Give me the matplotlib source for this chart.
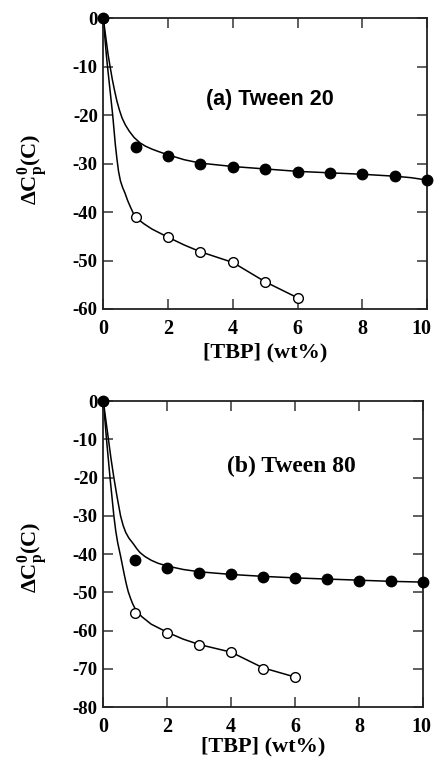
import matplotlib
matplotlib.use('Agg')
import matplotlib.pyplot as plt
from matplotlib.transforms import ScaledTranslation

plt.rcParams['font.family'] = 'Liberation Serif'
plt.rcParams['font.weight'] = 'bold'
plt.rcParams['axes.unicode_minus'] = False
plt.rcParams['mathtext.fontset'] = 'custom'
plt.rcParams['mathtext.rm'] = 'Liberation Serif'
plt.rcParams['mathtext.bf'] = 'Liberation Serif:bold'

# measured points
tbp_filled = [0, 1, 2, 3, 4, 5, 6, 7, 8, 9, 10]
tbp_open = [0, 1, 2, 3, 4, 5, 6]
t20_filled = [0, -26.5, -28.4, -30.1, -30.6, -31.2, -31.7, -31.9, -32.2, -32.6, -33.4]
t20_open = [0, -41.1, -45.2, -48.2, -50.4, -54.4, -57.7]
t80_filled = [0, -41.5, -43.5, -44.9, -45.3, -45.9, -46.3, -46.6, -46.9, -47.1, -47.3]
t80_open = [0, -55.3, -60.5, -63.8, -65.6, -69.9, -72.1]

# fitted curves
t20_fit_filled_x = [0, 0.05, 0.1, 0.15, 0.21, 0.28, 0.35, 0.42, 0.5, 0.58, 0.68, 0.8, 0.95,
                    1.13, 1.3, 1.5, 1.7, 2, 2.5, 3, 4, 5, 6, 7, 8, 9, 9.5, 10]
t20_fit_filled_y = [0, -2.6, -5.1, -7.6, -10, -12.7, -15, -17.1, -19, -20.6, -22, -23.3,
                    -24.6, -25.7, -26.4, -27.0, -27.5, -28.2, -29.2, -29.9, -30.6, -31.1,
                    -31.6, -31.9, -32.2, -32.6, -32.9, -33.4]
t20_fit_open_x = [0, 0.03, 0.06, 0.1, 0.13, 0.17, 0.21, 0.25, 0.29, 0.33, 0.37, 0.42, 0.47,
                  0.53, 0.6, 0.67, 0.75, 0.84, 0.93, 1, 1.25, 1.5, 2, 2.5, 3, 3.5, 4, 5, 6]
t20_fit_open_y = [0, -2.5, -5, -8, -10, -12.5, -15, -17.5, -20, -23, -26, -29, -31.6,
                  -33.6, -35, -36.1, -37.6, -39, -40.3, -41.1, -42.4, -43.5, -45.2, -46.8,
                  -48.2, -49.3, -50.4, -54.4, -57.7]
t80_fit_filled_x = [0, 0.04, 0.08, 0.12, 0.16, 0.24, 0.33, 0.43, 0.54, 0.62, 0.7, 0.8, 0.94,
                    1.05, 1.15, 1.3, 1.5, 1.72, 2, 2.5, 3, 4, 5, 6, 7, 8, 9, 10]
t80_fit_filled_y = [0, -2.5, -5, -7.5, -10, -15, -20, -25, -30, -32.5, -34.3, -35.8, -37.3,
                    -38.6, -39.6, -40.6, -41.6, -42.4, -43.1, -44.0, -44.6, -45.3, -45.8,
                    -46.2, -46.5, -46.8, -47.1, -47.3]
t80_fit_open_x = [0, 0.025, 0.05, 0.075, 0.1, 0.155, 0.21, 0.27, 0.33, 0.39, 0.45, 0.54, 0.6,
                  0.66, 0.72, 0.78, 0.85, 0.92, 1, 1.2, 1.5, 2, 2.5, 3, 3.5, 4, 5, 6]
t80_fit_open_y = [0, -2.5, -5, -7.5, -10, -15, -20, -25, -30, -34, -37, -40.5, -43, -45.5,
                  -47.8, -49.8, -51.5, -53, -54.3, -56.3, -58.3, -60.4, -62.2, -63.6, -64.6,
                  -65.6, -69.7, -72.1]

fig = plt.figure(figsize=(4.35, 7.61), dpi=100)
ax1 = fig.add_axes([0.2375, 0.594, 0.7445, 0.382])
ax2 = fig.add_axes([0.2375, 0.0706, 0.7345, 0.4024])


def draw(ax, fx_f, fy_f, fx_o, fy_o, y_f, y_o, ymin, label, label_font, label_size,
         label_xy, ylab_y, xlab_y, last_shift):
    ax.plot(fx_f, fy_f, color='black', lw=1.1, zorder=2)
    ax.plot(fx_o, fy_o, color='black', lw=1.1, zorder=2)
    ax.plot(tbp_open, y_o, 'o', ms=7, mfc='white', mec='black', mew=1.0, zorder=3)
    ax.plot(tbp_filled, y_f, 'o', ms=7.5, color='black', zorder=4, clip_on=False)
    ax.set_xlim(0, 10)
    ax.set_ylim(ymin, 0)
    ax.set_xticks(range(0, 11, 2))
    ax.set_yticks(range(ymin, 1, 10))
    ax.tick_params(direction='in', length=7, width=1.2, top=True, right=True,
                   color='#444444')
    ax.tick_params(axis='x', labelsize=14.5, pad=7)
    ax.tick_params(axis='y', labelsize=13.5, pad=4)
    for lab in ax.get_xticklabels() + ax.get_yticklabels():
        lab.set_fontweight('bold')
    # keep the "10" label inside the figure
    last = ax.xaxis.get_major_ticks()[-1].label1
    last.set_transform(last.get_transform() +
                       ScaledTranslation(-last_shift / 72, 0, fig.dpi_scale_trans))
    for s in ax.spines.values():
        s.set_linewidth(1.3)
        s.set_color('#222222')
    ax.set_xlabel('[TBP] (wt%)', fontsize=16, fontweight='bold')
    ax.set_ylabel(r'$\Delta\mathbf{C}_{\mathbf{p}}^{\mathbf{0}}\mathbf{(C)}$', fontsize=16)
    ax.xaxis.set_label_coords(0.5, xlab_y)
    ax.yaxis.set_label_coords(-0.163, ylab_y)
    ax.text(label_xy[0], label_xy[1], label, ha='center', va='center', fontsize=label_size,
            fontweight='bold', family=label_font)


draw(ax1, t20_fit_filled_x, t20_fit_filled_y, t20_fit_open_x, t20_fit_open_y,
     t20_filled, t20_open, -60, '(a) Tween 20', 'Liberation Sans', 15.5, (5.15, -16.7),
     0.48, -0.115, 4)
draw(ax2, t80_fit_filled_x, t80_fit_filled_y, t80_fit_open_x, t80_fit_open_y,
     t80_filled, t80_open, -80, '(b) Tween 80', 'Liberation Serif', 17, (5.9, -17.0),
     0.49, -0.097, 1)

fig.savefig('out.png', dpi=100)
